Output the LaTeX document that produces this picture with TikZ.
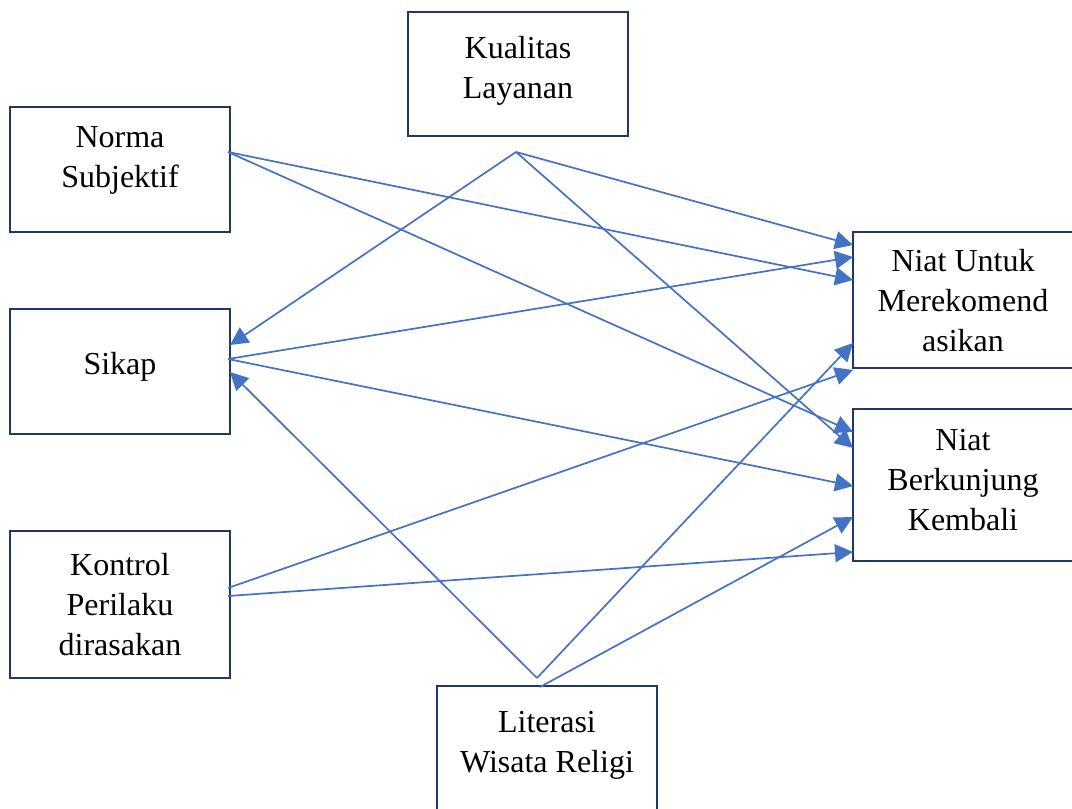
\documentclass[tikz,border=0pt]{standalone}
\usepackage{fontspec}
\setmainfont{Liberation Serif}
\usetikzlibrary{arrows.meta}
\definecolor{boxline}{HTML}{203864}
\definecolor{linkc}{HTML}{4472C4}
\begin{document}
\begin{tikzpicture}[x=1pt,y=-1pt,
  box/.style={draw=boxline, line width=2pt, minimum width=220pt, inner sep=0pt},
  lbl/.style={anchor=north, align=center, inner sep=0pt, font=\fontsize{32}{40}\selectfont},
  arr/.style={draw=linkc, line width=1.7pt, -{Triangle[length=18pt,width=18pt]}}]
\useasboundingbox (0,0) rectangle (1072,809);

% boxes
\node[box, minimum height=124pt] (kual) at (518,74) {};
\node[box, minimum height=125pt] (norma) at (120,169.5) {};
\node[box, minimum height=125pt] (sikap) at (120,371.5) {};
\node[box, minimum height=147pt] (kontrol) at (120,604.5) {};
\node[box, minimum height=130pt] (lit) at (547,751) {};
\node[box, minimum height=136pt] (niatA) at (963,300) {};
\node[box, minimum height=152pt] (niatB) at (963,485) {};

% labels
\node[lbl] (kualT) at (518,36) {Kualitas\\Layanan};
\node[lbl] (normaT) at (120,126) {Norma\\Subjektif};
\node[lbl] (sikapT) at (120,352) {Sikap};
\node[lbl] (kontrolT) at (120,553) {Kontrol\\Perilaku\\dirasakan};
\node[lbl] (litT) at (547,711) {Literasi\\Wisata Religi};
\node[lbl] (niatAT) at (963,249) {Niat Untuk\\Merekomend\\asikan};
\node[lbl] (niatBT) at (963,429) {Niat\\Berkunjung\\Kembali};

% connector end points
\coordinate (nS) at (228,152);
\coordinate (kS) at (516,152);
\coordinate (sS) at (228,359);
\coordinate (cS1) at (228,588);
\coordinate (cS2) at (228,596);
\coordinate (lS1) at (537,678);
\coordinate (lS2) at (540,687);
\coordinate (sIn1) at (230,345);
\coordinate (sIn2) at (230,372);
\coordinate (a1) at (853,245);
\coordinate (a2) at (853,257);
\coordinate (a3) at (853,280);
\coordinate (a4) at (853,343);
\coordinate (a5) at (853,370);
\coordinate (b1) at (853,432);
\coordinate (b2) at (853,448);
\coordinate (b3) at (853,486);
\coordinate (b4) at (853,517);
\coordinate (b5) at (853,552);

% connectors
\draw[arr] (nS) -- (a3);
\draw[arr] (nS) -- (b1);
\draw[arr] (kS) -- (a1);
\draw[arr] (kS) -- (b2);
\draw[arr] (kS) -- (sIn1);
\draw[arr] (sS) -- (a2);
\draw[arr] (sS) -- (b3);
\draw[arr] (cS1) -- (a5);
\draw[arr] (cS2) -- (b5);
\draw[arr] (lS1) -- (sIn2);
\draw[arr] (lS1) -- (a4);
\draw[arr] (lS2) -- (b4);
\end{tikzpicture}
\end{document}
